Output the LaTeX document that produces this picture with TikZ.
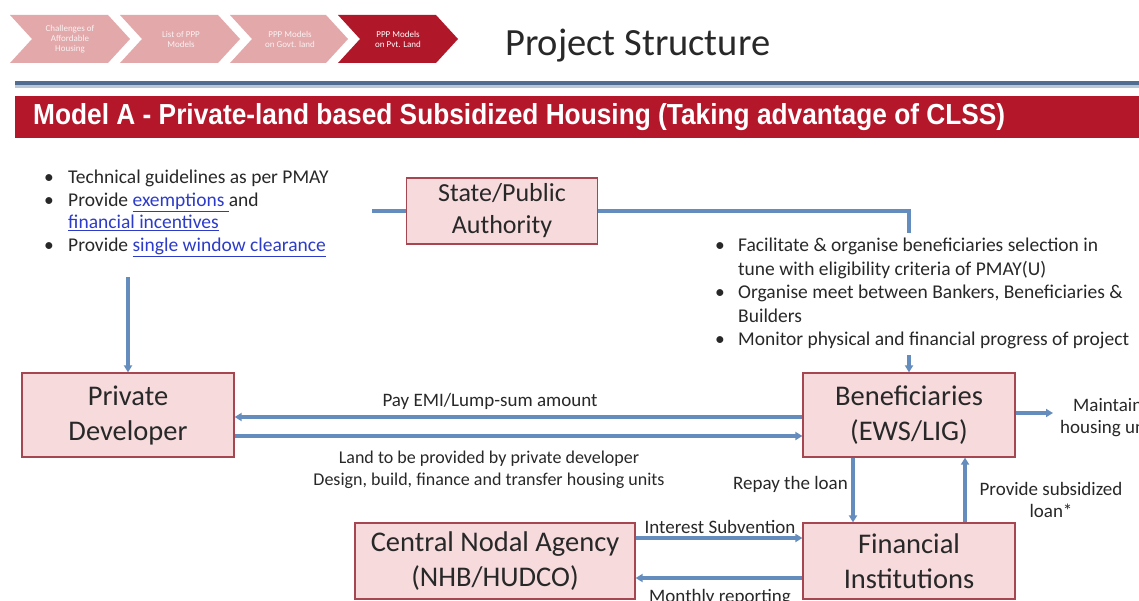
\documentclass[tikz,border=0pt]{standalone}
\usepackage{fontspec}
\setmainfont{Carlito}
\newfontfamily\arialf{Liberation Sans}
\usepackage{graphicx}
\usetikzlibrary{arrows.meta,calc}
\definecolor{chevl}{RGB}{226,168,170}
\definecolor{chevd}{RGB}{176,24,42}
\definecolor{bannerred}{RGB}{180,22,42}
\definecolor{sepblue}{RGB}{80,108,145}
\definecolor{seplight}{RGB}{185,198,215}
\definecolor{boxfill}{RGB}{246,218,220}
\definecolor{boxline}{RGB}{165,70,80}
\definecolor{arrblue}{RGB}{100,140,188}
\definecolor{txt}{RGB}{40,40,40}
\definecolor{linkc}{RGB}{45,60,200}
\begin{document}
\begin{tikzpicture}[x=1pt,y=-1pt,
  box/.style={draw=boxline, line width=1.2pt, fill=boxfill, align=center, inner sep=0pt, font=\fontsize{28.5}{35}\selectfont, text=txt},
  arr/.style={draw=arrblue, line width=3.2pt, -{Triangle[length=7pt,width=8pt]}},
  conn/.style={draw=arrblue, line width=3.2pt},
  lbl/.style={font=\fontsize{19}{22}\selectfont, text=txt, align=center, inner sep=1pt},
  chevtxt/.style={text=white, font=\fontsize{9}{10}\selectfont, align=center, inner sep=0pt},
  bullets/.style={text=txt, inner sep=0pt, align=left}]

\useasboundingbox (0,0) rectangle (1139,601);
\fill[white] (0,0) rectangle (1139,601);

% chevrons
\fill[chevl] (10,15) -- (108,15) -- (130,39) -- (108,63) -- (10,63) -- (32,39) -- cycle;
\fill[chevl] (120,15) -- (218,15) -- (240,39) -- (218,63) -- (120,63) -- (142,39) -- cycle;
\fill[chevl] (230,15) -- (326,15) -- (348,39) -- (326,63) -- (230,63) -- (252,39) -- cycle;
\fill[chevd] (338,15) -- (436,15) -- (458,39) -- (436,63) -- (338,63) -- (360,39) -- cycle;
\node[chevtxt, text opacity=0.85] (c1) at (70,39) {Challenges of\\Affordable\\Housing};
\node[chevtxt, text opacity=0.85] (c2) at (181,39) {List of PPP\\Models};
\node[chevtxt, text opacity=0.85] (c3) at (290,39) {PPP Models\\on Govt. land};
\node[chevtxt] (c4) at (398,39) {PPP Models\\on Pvt. Land};

% title
\node[anchor=west, inner sep=0pt, font=\fontsize{38.5}{44}\selectfont, text=txt] (title) at (505,46) {Project Structure};

% separator and banner
\fill[seplight] (15,85) rectangle (1139,88);
\fill[sepblue] (15,81) rectangle (1139,85);
\fill[bannerred] (15,96) rectangle (1139,138);
\node[anchor=west, inner sep=0pt, text=white, font=\arialf\bfseries\fontsize{29}{32}\selectfont] (banner) at (33,117)
  {\resizebox{972pt}{\height}{Model A - Private-land based Subsidized Housing (Taking advantage of CLSS)}};

% left bullets
\node[bullets, anchor=north west, font=\fontsize{19.5}{22.5}\selectfont] (leftlist) at (44,168) {%
\begin{tabular}{@{}p{24pt}@{}l@{}}
\textbullet & Technical guidelines as per PMAY\\
\textbullet & Provide {\color{linkc}\underline{exemptions\ }}and\\
 & {\color{linkc}\underline{financial incentives}}\\
\textbullet & Provide {\color{linkc}\underline{single window clearance}}
\end{tabular}};

% boxes
\node[box, minimum width=191pt, minimum height=66pt, font=\fontsize{26}{32}\selectfont] (state) at (502,211) {State/Public\\Authority};
\node[box, minimum width=212pt, minimum height=84pt] (pd) at (128,415) {Private\\Developer};
\node[box, minimum width=212pt, minimum height=84pt] (ben) at (909,415) {Beneficiaries\\(EWS/LIG)};
\node[box, minimum width=280pt, minimum height=76pt] (cna) at (495,561) {Central Nodal Agency\\(NHB/HUDCO)};
\node[box, minimum width=212pt, minimum height=76pt] (fi) at (909,561) {Financial\\Institutions};

% State connections
\coordinate (sl) at (372,211);
\draw[conn] (sl) -- (state.west);
\draw[arr] (state.east) -| (ben.north);

% right bullets (cover the line)
\node[bullets, anchor=north west, fill=white, inner sep=2pt, font=\fontsize{19.5}{23.5}\selectfont] (rightlist) at (713,233) {%
\begin{tabular}{@{}p{23pt}@{}l@{}}
\textbullet & Facilitate \& organise beneficiaries selection in\\
 & tune with eligibility criteria of PMAY(U)\\
\textbullet & Organise meet between Bankers, Beneficiaries \&\\
 & Builders\\
\textbullet & Monitor physical and financial progress of project
\end{tabular}};

% left list to developer
\coordinate (la) at (128,277);
\draw[arr] (la) -- (pd.north);

% developer <-> beneficiaries
\draw[arr] ($(ben.west)+(0,2)$) -- ($(pd.east)+(0,2)$);
\draw[arr] ($(pd.east)+(0,21)$) -- ($(ben.west)+(0,21)$);
\node[lbl] (pay) at (490,401) {Pay EMI/Lump-sum amount};
\node[lbl, font=\fontsize{18}{22}\selectfont] (land) at (489,470) {Land to be provided by private developer\\Design, build, finance and transfer housing units};

% maintain
\coordinate (mt) at (1053,413);
\draw[arr] ($(ben.east)+(0,-2)$) -- (mt);
\node[lbl, anchor=west, align=left] (maint) at (1059,418) {\hspace*{13pt}Maintain\\housing units};

% repay / provide
\draw[arr] ($(ben.south)+(-56,0)$) -- ($(fi.north)+(-56,0)$);
\node[lbl, anchor=east] (repay) at (849,484) {Repay the loan};
\draw[arr] ($(fi.north)+(56,0)$) -- ($(ben.south)+(56,0)$);
\node[lbl] (prov) at (1051,500) {Provide subsidized\\loan*};

% CNA <-> FI
\draw[arr] ($(cna.east)+(0,-23)$) -- ($(fi.west)+(0,-23)$);
\node[lbl, fill=white, inner sep=0.5pt] (int) at (720,527) {Interest Subvention};
\draw[arr] ($(fi.west)+(0,17)$) -- ($(cna.east)+(0,17)$);
\node[lbl] (mon) at (720,598) {Monthly reporting};
\end{tikzpicture}
\end{document}
